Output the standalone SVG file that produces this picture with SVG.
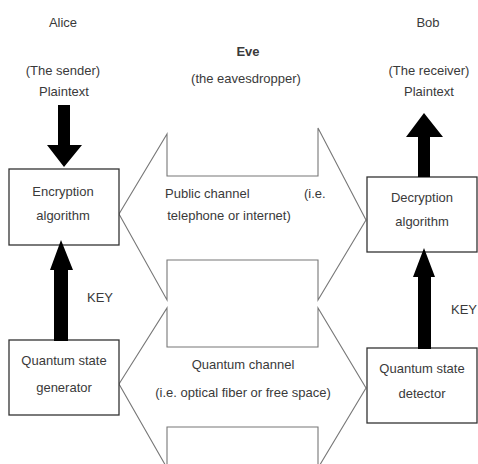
<svg xmlns="http://www.w3.org/2000/svg" width="478" height="464" viewBox="0 0 478 464">
<style>
text{font-family:"Liberation Sans",Arial,sans-serif;font-size:13px;fill:#3a3a3a;text-anchor:middle}
.box{fill:#fff;stroke:#333;stroke-width:1.3}
.chan{fill:#fff;stroke:#777;stroke-width:1.1}
.arr{fill:#000}
.l{text-anchor:start}
.r{text-anchor:end}
</style>
<rect width="478" height="464" fill="#fff"/>
<g id="labels">
<text x="63" y="27">Alice</text>
<text x="63" y="75">(The sender)</text>
<text x="64" y="96">Plaintext</text>
<text x="248" y="56" font-weight="bold">Eve</text>
<text x="246" y="83">(the eavesdropper)</text>
<text x="428" y="27">Bob</text>
<text x="429" y="75">(The receiver)</text>
<text x="429" y="96">Plaintext</text>
<text x="100" y="302">KEY</text>
<text class="r" x="477" y="314" font-size="12">KEY</text>
</g>
<g id="public-channel">
<polygon class="chan" points="119,214 167,134 167,176 318,176 318,128 366,220 318,300 318,260 167,260 167,300"/>
<text class="l" x="165" y="198">Public channel</text>
<text class="l" x="304" y="198">(i.e.</text>
<text x="229" y="220">telephone or internet)</text>
</g>
<g id="quantum-channel">
<polygon class="chan" points="119,384 167,308 167,347 318,347 318,308 366,388 318,468 318,427 167,427 167,468"/>
<text x="243" y="369">Quantum channel</text>
<text x="243" y="397">(i.e. optical fiber or free space)</text>
</g>
<g id="encryption">
<rect class="box" x="9" y="169" width="110" height="76"/>
<text x="63" y="196">Encryption</text>
<text x="63" y="220">algorithm</text>
</g>
<g id="generator">
<rect class="box" x="9" y="340" width="110" height="75"/>
<text x="64" y="365">Quantum state</text>
<text x="64" y="392">generator</text>
</g>
<g id="decryption">
<rect class="box" x="367" y="177" width="110" height="75"/>
<text x="422" y="202">Decryption</text>
<text x="422" y="226">algorithm</text>
</g>
<g id="detector">
<rect class="box" x="367" y="348" width="110" height="75"/>
<text x="422" y="373">Quantum state</text>
<text x="422" y="398">detector</text>
</g>
<g id="connectors">
<polygon class="arr" points="58,105 70,105 70,145 82,145 64,167 47,145 58,145"/>
<polygon class="arr" points="61,240 73,270 68,270 68,341 54,341 54,270 50,270"/>
<polygon class="arr" points="424,113 443,137 430,137 430,177 418,177 418,137 406,137"/>
<polygon class="arr" points="424,248 435,277 431,277 431,349 418,349 418,277 413,277"/>
</g>
</svg>
